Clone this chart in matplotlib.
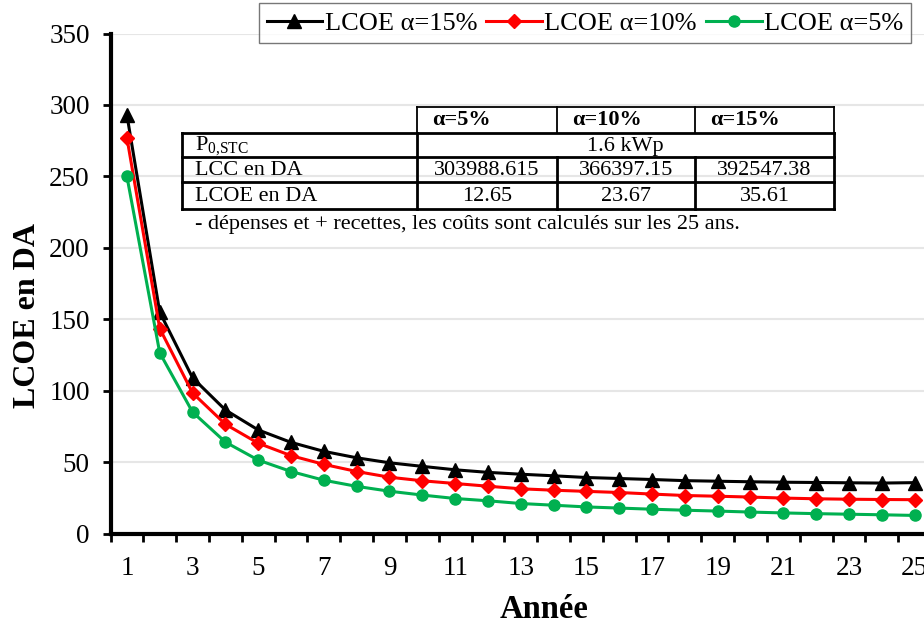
import matplotlib
matplotlib.use("Agg")
import matplotlib.pyplot as plt
from matplotlib.lines import Line2D
import numpy as np

plt.rcParams['font.family'] = ['Liberation Serif', 'DejaVu Serif']
plt.rcParams['mathtext.fontset'] = 'custom'
plt.rcParams['mathtext.rm'] = 'Liberation Serif'

# ---- data ----
years = list(range(1, 26))
lcoe_15 = [293, 155, 109, 86.5, 72.5, 63.8, 57.5, 53, 49.5, 47, 44.6, 42.8, 41.5,
           40.4, 39.2, 38.5, 37.8, 37.0, 36.6, 36.2, 35.9, 35.7, 35.5, 35.3, 35.61]
lcoe_10 = [277, 143.5, 98.4, 76.5, 63.2, 54.5, 48.4, 43.4, 39.4, 36.9, 35.0, 33.1, 31.3,
           30.3, 29.5, 28.7, 27.6, 26.6, 26.1, 25.5, 24.8, 24.3, 24.0, 23.8, 23.67]
lcoe_5 = [250, 126.5, 85, 64, 51.4, 43.4, 37.3, 33, 29.6, 26.9, 24.5, 22.9, 21.0,
          19.8, 18.6, 17.8, 17.0, 16.3, 15.7, 15.0, 14.4, 13.9, 13.5, 13.1, 12.65]
series_labels = ['LCOE α=15%', 'LCOE α=10%', 'LCOE α=5%']
xtick_labels = [str(v) for v in range(1, 26, 2)]

table_header = ['α=5%', 'α=10%', 'α=15%']
table_rows = ['LCC en DA', 'LCOE en DA']
power_label = r'P$_{\mathregular{0{,}STC}}$'
power_value = '1.6 kWp'
lcc_values = ['303988.615', '366397.15', '392547.38']
lcoe_values = ['12.65', '23.67', '35.61']
note_text = '- dépenses et + recettes, les coûts sont calculés sur les 25 ans.'

W, H = 924, 628
fig = plt.figure(figsize=(W / 100, H / 100), dpi=100)
ax = fig.add_axes([110.5 / W, (H - 533.5) / H, (931 - 110.5) / W, 500 / H])

ax.plot(years, lcoe_15, color='black', lw=2.2, marker='^', ms=10, zorder=4)
ax.plot(years, lcoe_10, color='#FF0000', lw=2.2, marker='D', ms=7.5, zorder=4)
ax.plot(years, lcoe_5, color='#00B050', lw=2.2, marker='o', ms=8, zorder=4)

ax.set_xlim(0.5, 25.5)
ax.set_ylim(0, 350)
ax.set_yticks(np.arange(0, 351, 50))
ax.set_xticks(range(1, 26, 2))
ax.set_xticklabels(xtick_labels)
ax.set_xticks(np.arange(0.5, 25.6, 1), minor=True)
ax.tick_params(axis='x', which='major', length=0, pad=16, labelsize=19.5)
ax.tick_params(axis='x', which='minor', length=6, width=2, direction='out')
ax.tick_params(axis='y', which='major', length=6, width=2, direction='out', pad=9, labelsize=19.5)
ax.yaxis.grid(True, color='#e6e6e6', lw=1.5, zorder=0)
ax.set_axisbelow(True)
for s in ['top', 'right']:
    ax.spines[s].set_visible(False)
for s in ['left', 'bottom']:
    ax.spines[s].set_linewidth(3)

fig.text(28 / W, 1 - 316 / H, 'LCOE en DA', rotation=90, ha='center', va='center',
         fontsize=23, fontweight='bold')
fig.text(544 / W, 1 - 610 / H, 'Année', ha='center', va='center',
         fontsize=23.5, fontweight='bold')

# legend
handles = [Line2D([], [], color='black', lw=2.2, marker='^', ms=10),
           Line2D([], [], color='#FF0000', lw=2.2, marker='D', ms=7.5),
           Line2D([], [], color='#00B050', lw=2.2, marker='o', ms=8)]
leg = fig.legend(handles, series_labels, loc='center', ncol=3,
                 bbox_to_anchor=((258 + 912) / 2 / W, 1 - 23 / H),
                 fontsize=19, frameon=True, fancybox=False, edgecolor='#555555',
                 handlelength=2.1, handletextpad=0.1, columnspacing=0.35,
                 borderpad=0.3, borderaxespad=0)
leg.get_frame().set_linewidth(1.0)


# table drawn in figure pixel coordinates
def fx(x):
    return x / W


def fy(y):
    return 1 - y / H


def hline(x0, x1, y, lw):
    fig.add_artist(Line2D([fx(x0), fx(x1)], [fy(y), fy(y)], color='black', lw=lw,
                          transform=fig.transFigure, solid_capstyle='projecting'))


def vline(x, y0, y1, lw):
    fig.add_artist(Line2D([fx(x), fx(x)], [fy(y0), fy(y1)], color='black', lw=lw,
                          transform=fig.transFigure, solid_capstyle='projecting'))


cols = [182, 417, 557, 695, 834]
rows = [107, 133, 157, 182, 209]
# header row (thin)
hline(cols[1], cols[4], rows[0], 1.3)
for c in cols[1:]:
    vline(c, rows[0], rows[1], 1.3)
# body
for r in rows[1:]:
    hline(cols[0], cols[4], r, 2.0)
vline(cols[0], rows[1], rows[4], 2.0)
vline(cols[1], rows[1], rows[4], 2.0)
vline(cols[4], rows[1], rows[4], 2.0)
for c in cols[2:4]:
    vline(c, rows[2], rows[4], 2.0)

tfs = 16
for i, h in enumerate(table_header):
    fig.text(fx(cols[i + 1] + 15), fy((rows[0] + rows[1]) / 2), h, ha='left', va='center',
             fontsize=tfs, fontweight='bold')
fig.text(fx(195), fy((rows[1] + rows[2]) / 2 + 1), power_label, ha='left', va='center', fontsize=tfs)
fig.text(fx((cols[1] + cols[4]) / 2), fy((rows[1] + rows[2]) / 2 + 1), power_value,
         ha='center', va='center', fontsize=tfs)
for j, (lab, vals) in enumerate(zip(table_rows, [lcc_values, lcoe_values])):
    yc = (rows[j + 2] + rows[j + 3]) / 2 + 1
    fig.text(fx(195), fy(yc), lab, ha='left', va='center', fontsize=tfs)
    for i, v in enumerate(vals):
        fig.text(fx((cols[i + 1] + cols[i + 2]) / 2), fy(yc), v, ha='center', va='center',
                 fontsize=tfs)
fig.text(fx(195), fy(225), note_text, ha='left', va='center', fontsize=tfs)

fig.savefig('out.png', dpi=100)
